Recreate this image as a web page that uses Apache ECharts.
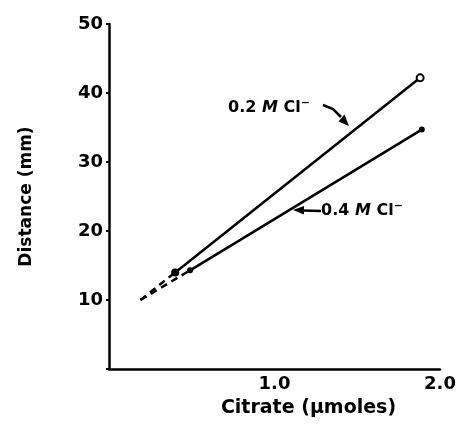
<!DOCTYPE html>
<html>
<head>
<meta charset="utf-8">
<script src="https://cdn.jsdelivr.net/npm/echarts@6/dist/echarts.min.js"></script>
<style>
  html, body { margin: 0; padding: 0; background: #fff; }
  #chart { width: 462px; height: 428px; }
</style>
</head>
<body>
<div id="chart"></div>
<script>
var citrateLow = [0.19, 0.40, 1.88];   // 0.2 M Cl-
var distanceLow = [10, 14, 42.2];
var citrateHigh = [0.19, 0.49, 1.89];  // 0.4 M Cl-
var distanceHigh = [10, 14.3, 34.7];

var yTicks = [10, 20, 30, 40, 50];
var xTicks = ['1.0', '2.0'];

var FONT = 'DejaVu Sans';
var INK = '#000';

function pts(xs, ys, from, to) {
    var out = [];
    for (var i = from; i <= to; i++) {
        out.push([xs[i], ys[i]]);
    }
    return out;
}

var dom = document.getElementById('chart');
var myChart = echarts.init(dom, null, {renderer: 'canvas'});

var option = {
    animation: false,
    grid: {left: 109, right: 22, top: 24, bottom: 59},
    xAxis: {
        type: 'value',
        min: 0,
        max: 2,
        interval: 1,
        name: 'Citrate (\u03bcmoles)',
        nameLocation: 'middle',
        nameGap: 30,
        nameTextStyle: {
            fontFamily: FONT, fontWeight: 'bold', fontSize: 19, color: INK,
            padding: [0, 0, 0, 68]
        },
        axisLine: {lineStyle: {color: INK, width: 2.5}},
        axisTick: {show: false},
        splitLine: {show: false},
        axisLabel: {
            fontFamily: FONT, fontWeight: 'bold', fontSize: 18, color: INK, margin: 6,
            formatter: function (v) {
                var s = v.toFixed(1);
                return xTicks.indexOf(s) >= 0 ? s : '';
            }
        }
    },
    yAxis: {
        type: 'value',
        min: 0,
        max: 50,
        interval: 10,
        name: 'Distance (mm)',
        nameLocation: 'middle',
        nameGap: 74,
        nameTextStyle: {fontFamily: FONT, fontWeight: 'bold', fontSize: 17, color: INK},
        axisLine: {lineStyle: {color: INK, width: 2.5}},
        axisTick: {show: true, length: 3, lineStyle: {color: INK, width: 2}},
        splitLine: {show: false},
        axisLabel: {
            fontFamily: FONT, fontWeight: 'bold', fontSize: 18, color: INK, margin: 6,
            formatter: function (v) {
                return yTicks.indexOf(v) >= 0 ? String(v) : '';
            }
        }
    },
    series: [
        {
            name: '0.2 M Cl- extrapolated',
            type: 'line',
            data: pts(citrateLow, distanceLow, 0, 1),
            showSymbol: false,
            lineStyle: {color: INK, width: 2.5, type: [7, 5]},
            z: 2
        },
        {
            name: '0.4 M Cl- extrapolated',
            type: 'line',
            data: pts(citrateHigh, distanceHigh, 0, 1),
            showSymbol: false,
            lineStyle: {color: INK, width: 2.5, type: [7, 5]},
            z: 2
        },
        {
            name: '0.2 M Cl-',
            type: 'line',
            data: pts(citrateLow, distanceLow, 1, 2),
            symbol: 'circle',
            symbolSize: function (v, p) { return p.dataIndex === 0 ? 8 : 7; },
            itemStyle: {color: INK},
            lineStyle: {color: INK, width: 2.5},
            z: 3
        },
        {
            name: '0.4 M Cl-',
            type: 'line',
            data: pts(citrateHigh, distanceHigh, 1, 2),
            symbol: 'circle',
            symbolSize: 6,
            itemStyle: {color: INK},
            lineStyle: {color: INK, width: 2.5},
            z: 3
        }
    ],
    graphic: []
};

// open circle at the last 0.2 M point
option.series[2].data[1] = {
    value: option.series[2].data[1],
    itemStyle: {color: '#fff', borderColor: INK, borderWidth: 2}
};

myChart.setOption(option);

// annotation labels and arrows, placed in pixels next to the lines
var labelRich = {
    n: {fontFamily: FONT, fontWeight: 'bold', fontSize: 16, fill: INK},
    i: {fontFamily: FONT, fontWeight: 'bold', fontStyle: 'italic', fontSize: 16, fill: INK},
    s: {fontFamily: FONT, fontWeight: 'bold', fontSize: 11, fill: INK, verticalAlign: 'top', padding: [0, 0, 8, 0]}
};

myChart.setOption({
    graphic: [
        {
            type: 'text', left: 228, top: 98,
            style: {text: '{n|0.2 }{i|M}{n| Cl}{s|\u2212}', rich: labelRich}
        },
        {
            type: 'polyline',
            shape: {points: [[323, 105], [333, 109], [341, 117]]},
            style: {stroke: INK, lineWidth: 2.5, fill: null}
        },
        {
            type: 'polygon',
            shape: {points: [[349, 126], [338.5, 121.5], [344.5, 114.5]]},
            style: {fill: INK}
        },
        {
            type: 'text', left: 321, top: 201,
            style: {text: '{n|0.4 }{i|M}{n| Cl}{s|\u2212}', rich: labelRich}
        },
        {
            type: 'line',
            shape: {x1: 302, y1: 210.5, x2: 321, y2: 211},
            style: {stroke: INK, lineWidth: 2.5}
        },
        {
            type: 'polygon',
            shape: {points: [[293, 210], [304, 206], [304, 214.5]]},
            style: {fill: INK}
        }
    ]
});
</script>
</body>
</html>
